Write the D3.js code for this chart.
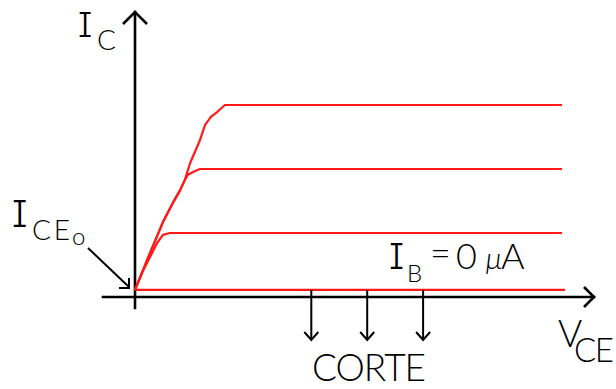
<!DOCTYPE html>
<html>
<head>
<meta charset="utf-8">
<script src="https://cdn.jsdelivr.net/npm/d3@7"></script>
<style>
  html, body { margin: 0; padding: 0; background: #fff; }
  svg { display: block; }
  text { font-family: Lato, "DejaVu Sans", sans-serif; font-weight: 300; fill: #000; }
  text.serifI { font-family: Inter, "DejaVu Sans Mono", monospace; font-weight: 300; font-feature-settings: "cv08" 1; }
</style>
</head>
<body>
<script>
// Output characteristic of a BJT: I_C versus V_CE for several base currents
const iceo = 0.11;                       // leakage current I_CEo (mA)
const curveIB0 = [[0, iceo], [10, iceo]]; // I_B = 0 µA
const curve1 = [[0, iceo], [0.16, 0.375], [0.40, 0.69], [0.51, 0.84], [0.65, 0.97], [0.81, 1.0], [9.93, 1.0]];
const curve2 = [[0, iceo], [0.35, 0.69], [0.65, 1.17], [0.88, 1.47], [1.05, 1.67], [1.16, 1.83], [1.23, 1.91], [1.40, 1.97], [1.51, 2.0], [9.93, 2.0]];
const curve3 = [[0, iceo], [0.35, 0.69], [0.65, 1.17], [0.88, 1.47], [1.05, 1.67], [1.16, 1.83], [1.28, 2.09], [1.51, 2.45], [1.63, 2.69], [1.77, 2.82], [1.91, 2.89], [2.09, 3.0], [9.93, 3.0]];
const curves = [curveIB0, curve1, curve2, curve3];
const corteV = [4.1, 5.4, 6.7];          // cut-off region markers on the V_CE axis

const W = 616, H = 389;
const svg = d3.select("body").append("svg").attr("width", W).attr("height", H);

const x = d3.scaleLinear().domain([0, 10]).range([135, 565]);
const y = d3.scaleLinear().domain([0, 3]).range([297, 105]);

const x0 = x(0), y0 = y(0);

// axes
const axes = svg.append("g").attr("stroke", "#000").attr("stroke-width", 2.6).attr("fill", "none")
  .attr("stroke-linecap", "square");
axes.append("line").attr("x1", x0).attr("x2", x0).attr("y1", 12).attr("y2", y0 + 11);
axes.append("line").attr("x1", x0 - 32).attr("x2", 594).attr("y1", y0).attr("y2", y0);
// open arrowheads
axes.append("path").attr("d", `M${x0 - 12},24 L${x0},12 L${x0 + 12},24`).attr("stroke-linecap", "butt");
axes.append("path").attr("d", `M584,${y0 - 10} L594,${y0} L584,${y0 + 10}`).attr("stroke-linecap", "butt");

// characteristic curves
const line = d3.line().x(d => x(d[0])).y(d => y(d[1]));
svg.append("g").selectAll("path").data(curves).join("path")
  .attr("d", line)
  .attr("fill", "none")
  .attr("stroke", "#ff1a1a")
  .attr("stroke-width", 2.2)
  .attr("stroke-linejoin", "round");

// cut-off arrows
const corte = svg.append("g").attr("stroke", "#000").attr("stroke-width", 2).attr("fill", "none");
corte.selectAll("line").data(corteV).join("line")
  .attr("x1", d => x(d)).attr("x2", d => x(d))
  .attr("y1", y(iceo)).attr("y2", 340);
corte.selectAll("path").data(corteV).join("path")
  .attr("d", d => `M${x(d) - 7},332 L${x(d)},340 L${x(d) + 7},332`);

// I_CEo pointer
const ptr = svg.append("g").attr("stroke", "#000").attr("stroke-width", 2).attr("fill", "none");
ptr.append("line").attr("x1", 88).attr("y1", 248).attr("x2", x0 - 6).attr("y2", y(iceo) - 3);
ptr.append("path").attr("d", `M${x0 - 16},${y(iceo) - 2} L${x0 - 6},${y(iceo) - 2} L${x0 - 6},${y(iceo) - 12}`);

// labels
function label(txt, px, py, size, opts = {}) {
  const t = svg.append("text").attr("x", px).attr("y", py).attr("font-size", size).text(txt);
  if (opts.len) t.attr("textLength", opts.len).attr("lengthAdjust", opts.adjust || "spacing");
  if (opts.italic) t.attr("font-style", "italic");
  if (opts.cls) t.attr("class", opts.cls);
  return t;
}
// I_C
label("I", 78, 37, 34, { cls: "serifI" });
label("C", 97, 50, 28);
// I_CEo
label("I", 12, 227, 37, { cls: "serifI" });
label("CE", 32, 240, 28, { len: 38 });
label("o", 72, 245, 24);
// I_B = 0 µA
label("I", 389, 269, 36, { cls: "serifI" });
label("B", 407, 282, 24);
label("=", 430, 266, 36);
label("0", 456, 269, 36);
label("µ", 485, 269, 30, { italic: true });
label("A", 501, 269, 36);
// V_CE
label("V", 558, 347, 37);
label("CE", 574, 362, 33, { len: 40 });
// CORTE
label("CORTE", 312, 381, 37, { len: 114 });
</script>
</body>
</html>
